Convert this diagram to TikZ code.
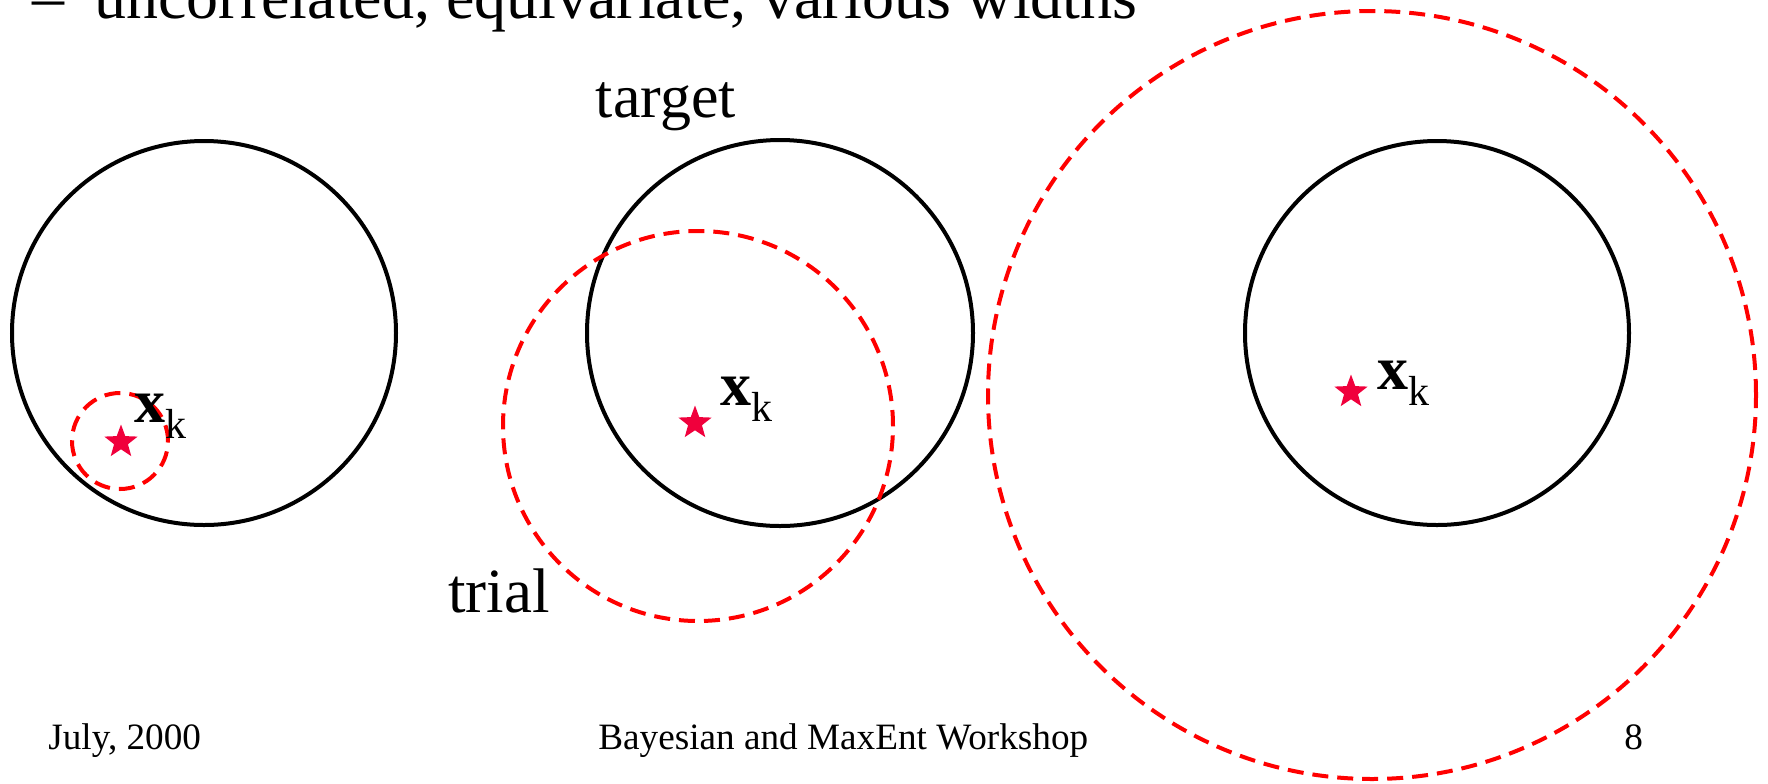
\documentclass[tikz,border=0pt]{standalone}
\usepackage{fontspec}
\setmainfont{Liberation Serif}
\usetikzlibrary{shapes.geometric}
\definecolor{starred}{RGB}{240,0,60}
\tikzset{
  target/.style={draw=black, line width=2pt},
  trialc/.style={draw=red, line width=2pt, dash pattern=on 8pt off 4.5pt},
  starmark/.style={star, star points=5, star point ratio=2.4, fill=starred, draw=none, minimum size=17.5pt, inner sep=0pt},
  big/.style={font=\fontsize{31}{36}\selectfont, inner sep=0pt},
  foot/.style={font=\fontsize{18.6}{22}\selectfont, inner sep=0pt},
  xk/.style={font=\fontsize{31}{36}\selectfont, inner sep=0pt, anchor=base west}
}
\newcommand{\xklabel}{\textbf{x}\raisebox{-8pt}{\fontsize{21}{24}\selectfont k}}
\begin{document}
\begin{tikzpicture}[x=0.5pt,y=-0.5pt]
\useasboundingbox (0,0) rectangle (1768,783);
% top bullet line (cut by the top edge)
\begin{scope}
\clip (0,0) rectangle (1768,783);
\node[font=\fontsize{32}{36}\selectfont, inner sep=0pt, anchor=base west] (bullet) at (32,18) {–\hspace{15pt}uncorrelated, equivariate, various widths};
\end{scope}
% target circles
\node[target, circle, minimum size=192pt, inner sep=0pt] (t1) at (204,333) {};
\node[target, circle, minimum size=193pt, inner sep=0pt] (t2) at (780,333) {};
\node[target, circle, minimum size=192pt, inner sep=0pt] (t3) at (1437,333) {};
% trial circles
\node[trialc, circle, minimum size=48pt, inner sep=0pt] (r1) at (120,441) {};
\node[trialc, circle, minimum size=195pt, inner sep=0pt] (r2) at (698,426) {};
\node[trialc, circle, minimum size=384pt, inner sep=0pt] (r3) at (1372,395) {};
% stars
\node[starmark] (s1) at (121,442) {};
\node[starmark] (s2) at (695,423) {};
\node[starmark] (s3) at (1351,392) {};
% labels
\node[xk] (l1) at (134,422) {\xklabel};
\node[xk] (l2) at (720,405) {\xklabel};
\node[xk] (l3) at (1377,389) {\xklabel};
\node[big, anchor=base] (tg) at (666,117) {target};
\node[font=\fontsize{31.5}{36}\selectfont, inner sep=0pt, anchor=base] (tr) at (499,612) {trial};
% footer
\node[foot, anchor=base west] (f1) at (48,749) {July, 2000};
\node[foot, anchor=base west] (f2) at (598,749) {Bayesian and MaxEnt Workshop};
\node[foot, anchor=base west] (f3) at (1624,749) {8};
\end{tikzpicture}
\end{document}
